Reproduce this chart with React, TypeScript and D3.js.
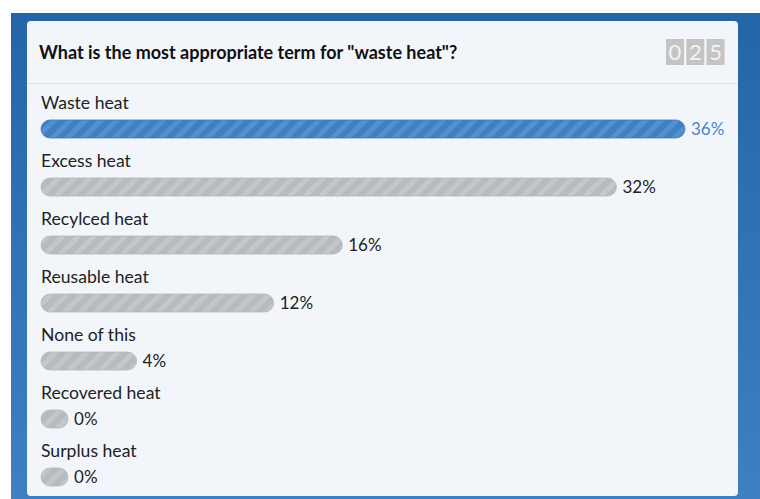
import React from "react";
import * as d3 from "d3";

const categories = ["Waste heat", "Excess heat", "Recylced heat", "Reusable heat", "None of this", "Recovered heat", "Surplus heat"];
const percents = [36, 32, 16, 12, 4, 0, 0];
const title = 'What is the most appropriate term for "waste heat"?';
const counterDigits = ["0", "2", "5"];

export default function App() {
  const W = 760, H = 499;
  const x = d3.scaleLinear().domain([0, d3.max(percents) as number]).range([27, 644]);
  const y = d3.scaleBand<number>().domain(d3.range(categories.length)).range([88, 494]).paddingInner(0);
  const barH = 18;
  const maxIdx = percents.indexOf(d3.max(percents) as number);
  const font = "Lato, 'Open Sans', sans-serif";
  return (
    <div style={{ position: "fixed", left: 0, top: 0 }}>
      <svg width={W} height={H} style={{ display: "block" }}>
        <defs>
          <linearGradient id="bg" x1="0" y1="0" x2="0" y2="1">
            <stop offset="0" stopColor="#2465a7" />
            <stop offset="1" stopColor="#3d81c3" />
          </linearGradient>
          <pattern id="stripeBlue" patternUnits="userSpaceOnUse" width="11" height="11" patternTransform="rotate(45)">
            <rect width="11" height="11" fill="#3f80c4" />
            <rect width="5" height="11" fill="#5590cc" />
          </pattern>
          <pattern id="stripeGray" patternUnits="userSpaceOnUse" width="11" height="11" patternTransform="rotate(45)">
            <rect width="11" height="11" fill="#b8bbbe" />
            <rect width="5" height="11" fill="#c4c7ca" />
          </pattern>
        </defs>
        <rect x={0} y={0} width={W} height={H} fill="#ffffff" />
        <rect x={11} y={13} width={W - 11} height={H - 13} fill="url(#bg)" />
        <rect x={27} y={21} width={711} height={475} rx={4} fill="#f2f6fb" />
        <text x={39} y={58.5} fontFamily={font} fontWeight={700} fontSize={18} fill="#111">{title}</text>
        {counterDigits.map((d, i) => (
          <g key={i} transform={`translate(${666 + i * 20.3},39)`}>
            <rect width={18} height={26} fill="#c4c4c4" />
            <text x={9} y={21} textAnchor="middle" fontFamily={font} fontSize={22} fill="#f4f4f4">{d}</text>
          </g>
        ))}
        <line x1={27} x2={738} y1={83.5} y2={83.5} stroke="#dce2e9" strokeWidth={1} />
        {categories.map((c, i) => {
          const top = y(i) as number;
          const barY = top + 32;
          const w = x(percents[i]);
          const isMax = i === maxIdx;
          return (
            <g key={c}>
              <text x={41} y={top + 21} fontFamily={font} fontSize={17.6} fill="#222">{c}</text>
              <rect x={41} y={barY} width={w} height={barH} rx={barH / 2} fill={isMax ? "url(#stripeBlue)" : "url(#stripeGray)"} stroke={isMax ? "#3b7cc0" : "#b3b6b9"} strokeWidth={0.8} />
              <text x={41 + w + 6} y={barY + 14.5} fontFamily={font} fontSize={17} fill={isMax ? "#4a86c5" : "#222"}>{percents[i]}%</text>
            </g>
          );
        })}
      </svg>
    </div>
  );
}
